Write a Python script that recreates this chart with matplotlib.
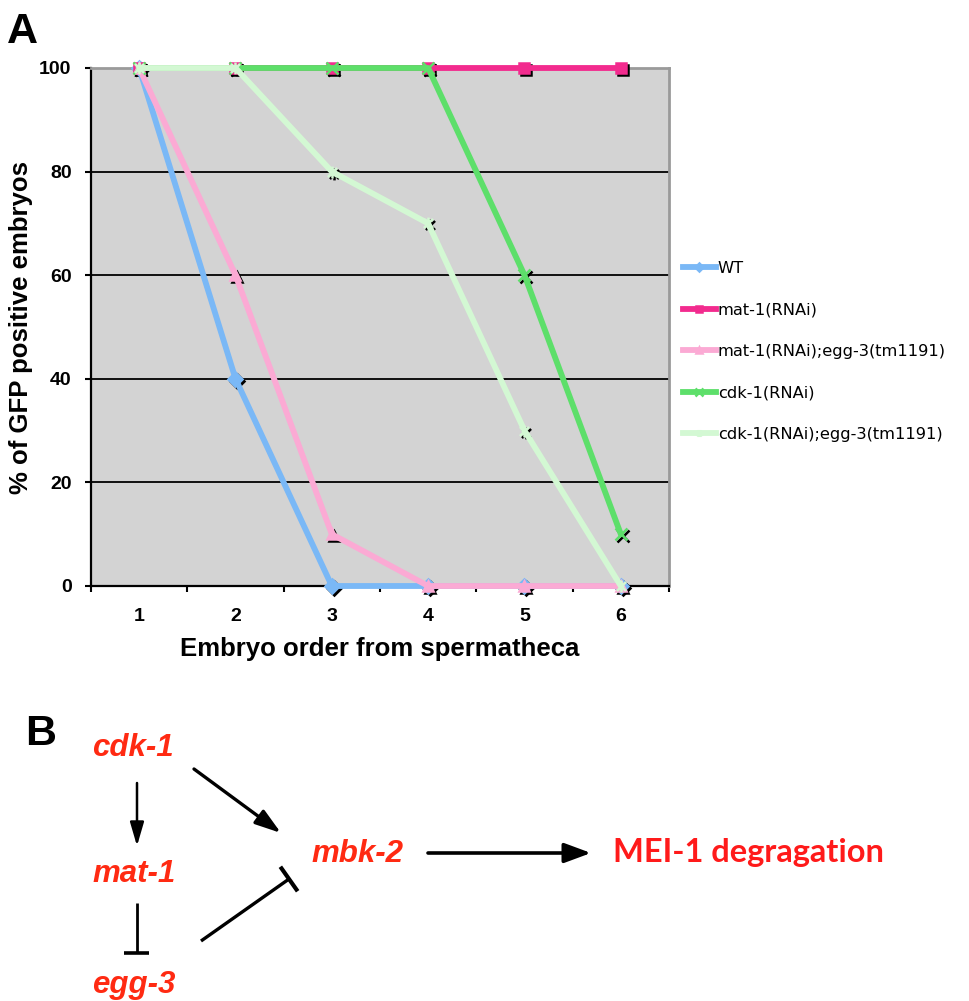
import matplotlib
matplotlib.use("Agg")
import matplotlib.pyplot as plt
import numpy as np
from matplotlib import transforms
from matplotlib.path import Path
from matplotlib.lines import Line2D

# data
order = [1, 2, 3, 4, 5, 6]
wt = [100, 40, 0, 0, 0, 0]
mat1 = [100, 100, 100, 100, 100, 100]
mat1_egg3 = [100, 60, 10, 0, 0, 0]
cdk1 = [100, 100, 100, 100, 60, 10]
cdk1_egg3 = [100, 100, 80, 70, 30, 0]

labels = ["WT", "mat-1(RNAi)", "mat-1(RNAi);egg-3(tm1191)",
          "cdk-1(RNAi)", "cdk-1(RNAi);egg-3(tm1191)"]
colors = ["#7ab8f6", "#f22b8e", "#fbaad4", "#5ddf6a", "#d3f8d3"]
yticks = [0, 20, 40, 60, 80, 100]

# excel-like asterisk marker (x plus vertical bar)
star = Path([(-1, -1), (1, 1), (-1, 1), (1, -1), (0, -1.3), (0, 1.3)],
            [Path.MOVETO, Path.LINETO, Path.MOVETO, Path.LINETO, Path.MOVETO, Path.LINETO])
markers = ["D", "s", "^", "x", star]
msizes = [7.5, 7.5, 7.5, 8.5, 8.5]

W, H = 970, 1001
fig = plt.figure(figsize=(W / 100, H / 100), dpi=100)

ax = fig.add_axes([91 / W, 1 - 586 / H, 578 / W, 518 / H])
ax.set_facecolor("#d3d3d3")

shadow = transforms.offset_copy(ax.transData, fig=fig, x=2, y=-2, units="dots")
series = [wt, mat1, mat1_egg3, cdk1, cdk1_egg3]
for vals, lab, col, mk, ms in zip(series, labels, colors, markers, msizes):
    ax.plot(order, vals, linestyle="none", marker=mk, ms=ms, color="black",
            mec="black", mew=1.8, transform=shadow, zorder=3, clip_on=False)
    ax.plot(order, vals, color=col, lw=4.2, marker=mk, ms=ms, mec=col, mew=1.8,
            label=lab, zorder=4, clip_on=False)

ax.set_xlim(0.5, 6.5)
ax.set_ylim(0, 100)
ax.set_yticks(yticks)
ax.set_xticks(order)
ax.set_xticks(np.arange(0.5, 7, 1), minor=True)
ax.tick_params(axis="x", which="major", length=0, pad=16)
ax.tick_params(axis="x", which="minor", length=4, width=1.5, direction="out")
ax.tick_params(axis="y", length=4, width=1.5, direction="out", pad=10)
for t in ax.get_xticklabels() + ax.get_yticklabels():
    t.set_fontfamily("Liberation Sans")
    t.set_fontweight("bold")
    t.set_fontsize(14)

ax.grid(axis="y", color="black", lw=1.3)
ax.set_axisbelow(True)
for s in ["left", "bottom"]:
    ax.spines[s].set_color("black")
    ax.spines[s].set_linewidth(1.6)
for s in ["top", "right"]:
    ax.spines[s].set_color("#9a9a9a")
    ax.spines[s].set_linewidth(2)

ax.set_xlabel("Embryo order from spermatheca", fontfamily="Liberation Sans",
              fontweight="bold", fontsize=18.5)
ax.set_ylabel("% of GFP positive embryos", fontfamily="Liberation Sans",
              fontweight="bold", fontsize=18.5)
ax.xaxis.set_label_coords(0.5, -0.098)
ax.yaxis.set_label_coords(-0.100, 0.5)

leg = ax.legend(loc="upper left", bbox_to_anchor=(683 / W, 1 - 261 / H),
                bbox_transform=fig.transFigure, frameon=False,
                prop={"family": "DejaVu Sans", "size": 11.7},
                handlelength=2.0, handletextpad=0.15, labelspacing=1.63,
                borderpad=0, borderaxespad=0, markerscale=0.6)

fig.text(7 / W, 1 - 43 / H, "A", fontfamily="Liberation Sans", fontweight="bold",
         fontsize=31, ha="left", va="baseline")

# panel B: pathway diagram in pixel coordinates
dg = fig.add_axes([0, 0, 1, 1])
dg.set_xlim(0, W)
dg.set_ylim(H, 0)
dg.axis("off")
dg.patch.set_alpha(0)

dg.text(25, 745, "B", fontfamily="Liberation Sans", fontweight="bold",
        fontsize=31, ha="left", va="baseline")

red = "#ff2a12"
gene = dict(fontfamily="Liberation Sans", fontweight="bold", fontstyle="italic",
            fontsize=22.5, color=red, ha="left", va="baseline")
dg.text(92, 756, "cdk-1", **gene)
dg.text(92, 882, "mat-1", **gene)
dg.text(92, 993, "egg-3", **gene)
dg.text(311, 862, "mbk-2", **gene)
dg.text(613, 862, "MEI-1 degragation", fontfamily="Lato", fontweight="bold",
        fontsize=23.5, color="#ff1a1a", ha="left", va="baseline")

def arrow(x0, y0, x1, y1, hl, hw, lw):
    dg.annotate("", xy=(x1, y1), xytext=(x0, y0),
                arrowprops=dict(arrowstyle=f"-|>,head_length={hl},head_width={hw}",
                                lw=lw, color="black", shrinkA=0, shrinkB=0,
                                mutation_scale=12))

def block(x0, y0, x1, y1, bar, lw):
    dg.add_line(Line2D([x0, x1], [y0, y1], color="black", lw=lw,
                       solid_capstyle="butt"))
    d = np.array([x1 - x0, y1 - y0])
    n = np.array([-d[1], d[0]]) / np.hypot(*d) * bar / 2
    dg.add_line(Line2D([x1 - n[0], x1 + n[0]], [y1 - n[1], y1 + n[1]],
                       color="black", lw=lw + 0.6, solid_capstyle="butt"))

arrow(137, 783, 137, 846, 1.2, 0.35, 1.8)
arrow(194, 769, 281, 833, 1.3, 0.42, 2.4)
arrow(428, 853, 591, 853, 1.35, 0.5, 2.6)
block(137, 903, 137, 953, 25, 2.0)
block(201, 941, 289, 879, 30, 2.4)

fig.savefig("out.png", dpi=100)
